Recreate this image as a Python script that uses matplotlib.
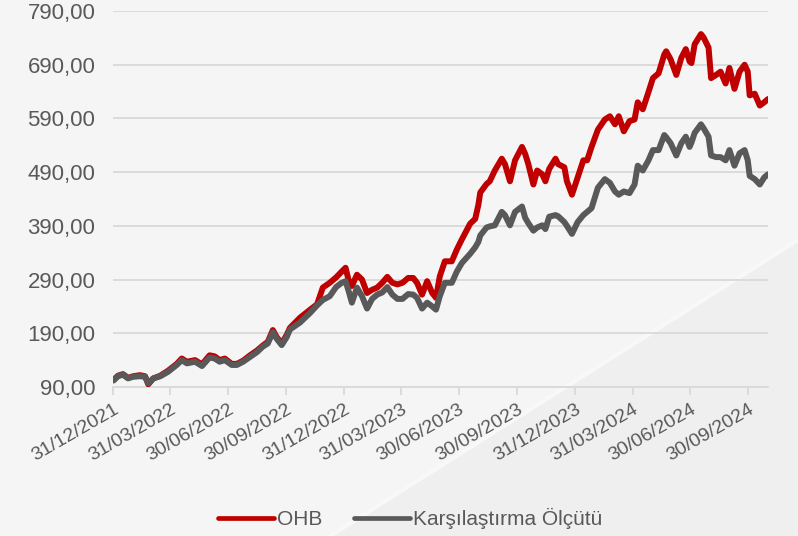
import matplotlib
matplotlib.use('Agg')
import matplotlib.pyplot as plt
import pandas as pd
from matplotlib.patches import Polygon
from matplotlib.lines import Line2D

dates = [
    '2021-12-31', '2022-01-07', '2022-01-15', '2022-01-23', '2022-01-31', '2022-02-11', '2022-02-19',
    '2022-02-24', '2022-03-04', '2022-03-15', '2022-03-27', '2022-04-10', '2022-04-18', '2022-04-26',
    '2022-05-09', '2022-05-20', '2022-06-01', '2022-06-09', '2022-06-17', '2022-06-25', '2022-07-06',
    '2022-07-14', '2022-07-24', '2022-08-04', '2022-08-15', '2022-08-24', '2022-09-01', '2022-09-09',
    '2022-09-15', '2022-09-23', '2022-10-01', '2022-10-06', '2022-10-22', '2022-11-07', '2022-11-18',
    '2022-11-27', '2022-12-08', '2022-12-18', '2022-12-27', '2023-01-02', '2023-01-07', '2023-01-12',
    '2023-01-20', '2023-01-28', '2023-02-05', '2023-02-13', '2023-02-21', '2023-03-01', '2023-03-09',
    '2023-03-17', '2023-03-25', '2023-04-02', '2023-04-11', '2023-04-19', '2023-04-25', '2023-05-03',
    '2023-05-11', '2023-05-19', '2023-05-25', '2023-05-31', '2023-06-08', '2023-06-19', '2023-06-27',
    '2023-07-05', '2023-07-18', '2023-07-26', '2023-07-31', '2023-08-03', '2023-08-13', '2023-08-18',
    '2023-08-26', '2023-09-06', '2023-09-11', '2023-09-19', '2023-09-27', '2023-10-08', '2023-10-13',
    '2023-10-18', '2023-10-26', '2023-11-01', '2023-11-09', '2023-11-14', '2023-11-20', '2023-11-30',
    '2023-12-04', '2023-12-14', '2023-12-18', '2023-12-26', '2024-01-04', '2024-01-13', '2024-01-19',
    '2024-01-26', '2024-02-05', '2024-02-16', '2024-02-24', '2024-03-03', '2024-03-09', '2024-03-17',
    '2024-03-26', '2024-04-03', '2024-04-08', '2024-04-16', '2024-04-25', '2024-05-02', '2024-05-11',
    '2024-05-20', '2024-05-23', '2024-05-30', '2024-06-08', '2024-06-16', '2024-06-23', '2024-06-29',
    '2024-07-02', '2024-07-07', '2024-07-17', '2024-07-21', '2024-07-29', '2024-08-02', '2024-08-10',
    '2024-08-17', '2024-08-25', '2024-08-31', '2024-09-08', '2024-09-16', '2024-09-24', '2024-09-29',
    '2024-10-02', '2024-10-10', '2024-10-18', '2024-10-25', '2024-10-31',
]

ohb = [
    103, 111, 114, 107, 110, 112, 110,
    95, 106, 111, 120, 133, 143, 137,
    140, 132, 149, 147, 140, 143, 133,
    133, 139, 149, 158, 167, 174, 196,
    183, 171, 187, 200, 219, 234, 244,
    275, 284, 294, 305, 312, 288, 278,
    299, 290, 265, 271, 275, 284, 295,
    284, 281, 284, 293, 293, 284, 262,
    287, 265, 256, 296, 324, 324, 346,
    365, 394, 403, 429, 452, 468, 473,
    493, 515, 505, 473, 512, 537, 524,
    505, 467, 493, 486, 473, 496, 515,
    505, 499, 473, 448, 480, 512, 512,
    537, 569, 588, 594, 579, 594, 566,
    585, 588, 620, 607, 639, 665, 674,
    709, 715, 700, 671, 703, 719, 696,
    693, 728, 747, 741, 722, 665, 671,
    677, 655, 684, 645, 677, 690, 677,
    633, 636, 614, 620, 626,
]

bench = [
    102, 110, 113, 106, 109, 110, 109,
    97, 106, 110, 118, 131, 140, 134,
    137, 129, 145, 143, 137, 140, 131,
    131, 137, 146, 155, 165, 171, 192,
    180, 168, 183, 197, 210, 228, 242,
    252, 259, 276, 284, 287, 268, 247,
    275, 259, 236, 254, 262, 266, 276,
    262, 254, 254, 263, 262, 256, 236,
    247, 240, 234, 259, 284, 284, 305,
    321, 338, 350, 360, 372, 387, 389,
    391, 416, 410, 391, 416, 426, 405,
    395, 381, 387, 391, 384, 407, 410,
    408, 397, 390, 375, 397, 410, 416,
    423, 461, 477, 470, 454, 448, 454,
    451, 467, 502, 493, 512, 531, 531,
    559, 555, 544, 521, 544, 556, 537,
    545, 563, 579, 572, 556, 521, 518,
    518, 512, 531, 502, 525, 531, 512,
    483, 477, 467, 480, 486,
]

tick_dates = ['2021-12-31', '2022-03-31', '2022-06-30', '2022-09-30', '2022-12-31', '2023-03-31',
              '2023-06-30', '2023-09-30', '2023-12-31', '2024-03-31', '2024-06-30', '2024-09-30']
tick_labels = ['31/12/2021', '31/03/2022', '30/06/2022', '30/09/2022', '31/12/2022', '31/03/2023',
               '30/06/2023', '30/09/2023', '31/12/2023', '31/03/2024', '30/06/2024', '30/09/2024']
y_ticks = [90, 190, 290, 390, 490, 590, 690, 790]
series_names = ['OHB', 'Karşılaştırma Ölçütü']
colors = ['#c00000', '#595959']

plt.rcParams['font.family'] = ['Liberation Sans', 'DejaVu Sans']
text_color = '#595959'
grid_color = '#d9d9d9'

fig = plt.figure(figsize=(7.98, 5.36), dpi=100, facecolor='#f5f5f6')

# subtle background shading
bg = fig.add_axes([0, 0, 1, 1], zorder=-10)
bg.set_xlim(0, 1)
bg.set_ylim(0, 1)
bg.axis('off')
bg.add_patch(Polygon([(330 / 798, 0), (1, 1 - 240 / 536), (1, 0)], closed=True,
                     facecolor='#efeff0', edgecolor='none'))
bg.plot([330 / 798, 1], [0, 1 - 240 / 536], color='#f8f8f9', lw=3)

ax = fig.add_axes([0.1422, 0.278, 0.8202, 0.7015])
ax.set_facecolor('none')

x = pd.to_datetime(dates)
ax.plot(x, ohb, color=colors[0], lw=4.3, solid_joinstyle='round', solid_capstyle='round', zorder=3)
ax.plot(x, bench, color=colors[1], lw=4.3, solid_joinstyle='round', solid_capstyle='round', zorder=4)

ax.set_ylim(90, 790)
ax.set_yticks(y_ticks)
ax.set_yticklabels([f"{v:.2f}".replace('.', ',') for v in y_ticks])
ax.set_xlim(pd.Timestamp('2021-12-31'), pd.Timestamp('2024-10-31'))
ax.set_xticks(pd.to_datetime(tick_dates))
ax.set_xticklabels(tick_labels, rotation=30, ha='right', rotation_mode='anchor')

ax.grid(axis='y', color=grid_color, lw=1.3, zorder=0)
for s in ['top', 'right', 'left']:
    ax.spines[s].set_visible(False)
ax.spines['bottom'].set_color(grid_color)
ax.spines['bottom'].set_linewidth(1.3)
ax.tick_params(axis='y', length=0, pad=13, labelsize=16, labelcolor=text_color)
ax.tick_params(axis='x', length=6, width=1.3, color=grid_color, pad=4, labelsize=14, labelcolor=text_color)

handles = [Line2D([], [], color=c, lw=3.4, solid_capstyle='round') for c in colors]
fig.legend(handles, series_names, loc='center', bbox_to_anchor=(0.514, 0.032), ncol=2,
           frameon=False, fontsize=15, handlelength=2.7, handletextpad=0.15, columnspacing=1.5,
           labelcolor=text_color)

fig.savefig('out.png', dpi=100, facecolor=fig.get_facecolor())
